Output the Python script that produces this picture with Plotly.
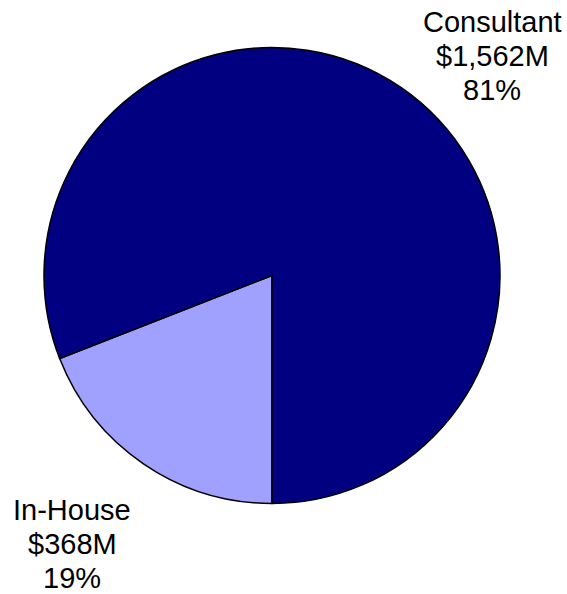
import plotly.graph_objects as go

labels = ["In-House", "Consultant"]
values = [368, 1562]
amounts = ["$368M", "$1,562M"]
percents = ["19%", "81%"]
colors = ["#A0A0FF", "#000080"]

W, H = 567, 594
# label block: centre x and first-line middle y, in pixels from top-left
label_pos = {"In-House": (72, 510), "Consultant": (492, 22)}
LINE = 34

fig = go.Figure()

fig.add_trace(go.Pie(labels=labels, values=values, sort=False, direction="clockwise",
                     rotation=180, textinfo="none", hoverinfo="label+value+percent",
                     marker=dict(colors=colors, line=dict(color="black", width=1.5)),
                     domain=dict(x=[44/W, 500/W], y=[1 - 504/H, 1 - 47/H]),
                     showlegend=False))

for lab, amt, pct in zip(labels, amounts, percents):
    px, py = label_pos[lab]
    for i, line in enumerate([lab, amt, pct]):
        fig.add_annotation(x=px/W, y=1 - (py + i*LINE)/H, xref="paper", yref="paper",
                           showarrow=False, text=line, xanchor="center", yanchor="middle",
                           font=dict(family="Liberation Sans, Arial", size=29, color="black"))

fig.update_layout(width=W, height=H, margin=dict(l=0, r=0, t=0, b=0),
                  paper_bgcolor="white", plot_bgcolor="white")

fig.write_html("out.html", config={"displayModeBar": False},
               post_script="document.body.style.margin='0';")
